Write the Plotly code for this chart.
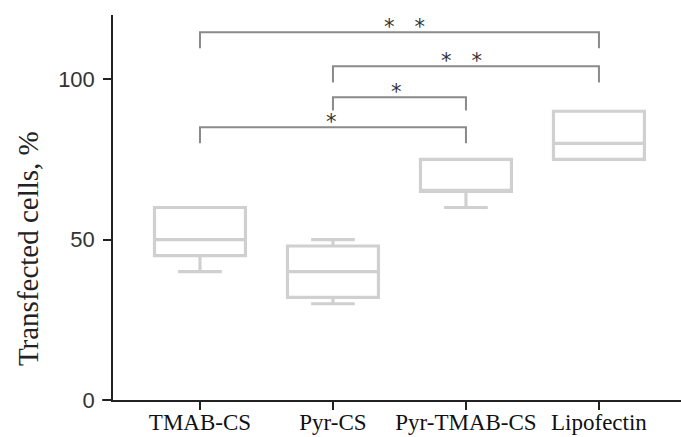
import plotly.graph_objects as go

categories = ["TMAB-CS", "Pyr-CS", "Pyr-TMAB-CS", "Lipofectin"]
positions = [0, 1, 2, 3]
q1 = [45, 32, 65, 75]
median = [50, 40, 65, 80]
q3 = [60, 48, 75, 90]
lower = [40, 30, 60, 75]
upper = [60, 50, 75, 90]

# significance brackets: (start category, end category, bar level, tick bottom, stars)
br_start = [0, 1, 1, 0]
br_end = [3, 3, 2, 2]
br_level = [114.6, 104.0, 94.4, 85.0]
br_drop = [5.0, 5.0, 4.2, 5.0]
br_label = ["*   *", "*   *", "*", "*"]
br_label_x = [1.54, 1.97, 1.48, 0.99]

fig = go.Figure()
fig.add_trace(go.Box(
    x=positions, q1=q1, median=median, q3=q3,
    lowerfence=lower, upperfence=upper,
    width=0.684, whiskerwidth=0.48,
    fillcolor="white", line=dict(color="#d0d0d0", width=3.2),
    boxpoints=False, showlegend=False, hoverinfo="skip",
))

for s, e, lv, dr in zip(br_start, br_end, br_level, br_drop):
    fig.add_trace(go.Scatter(
        x=[s, s, e, e], y=[lv - dr, lv, lv, lv - dr], mode="lines",
        line=dict(color="#8a8a8a", width=2), showlegend=False, hoverinfo="skip",
    ))

for lx, lv, lab in zip(br_label_x, br_level, br_label):
    fig.add_annotation(x=lx, y=lv, text=lab, showarrow=False, yanchor="bottom",
                       yshift=-9, font=dict(family="DejaVu Sans", size=21, color="#333"))

fig.add_annotation(xref="paper", yref="paper", x=-0.1496, y=0.392,
                   text="Transfected cells, %", textangle=-90, showarrow=False,
                   xanchor="center", yanchor="middle",
                   font=dict(family="Liberation Serif", size=29, color="#222"))

fig.add_shape(type="line", xref="paper", yref="paper", x0=-0.0194, x1=0, y0=0, y1=0,
              line=dict(color="#222", width=1.5))

fig.update_layout(
    width=681, height=437, margin=dict(l=113, r=0, t=15, b=37),
    plot_bgcolor="white", paper_bgcolor="white",
    xaxis=dict(range=[-0.654, 3.617], tickvals=positions, ticktext=categories,
               automargin=False, ticklabelstandoff=-7,
               showline=True, linecolor="#222", linewidth=1.5, ticks="outside",
               ticklen=8, tickcolor="#222", tickwidth=1.5, showgrid=False, zeroline=False,
               tickfont=dict(family="Liberation Serif", size=23, color="#111")),
    yaxis=dict(range=[0, 120], tickvals=[0, 50, 100], showline=True, linecolor="#222",
               automargin=False,
               linewidth=1.5, ticks="outside", ticklen=8, tickcolor="#222", tickwidth=1.5,
               showgrid=False, zeroline=False, ticklabelstandoff=4,
               tickfont=dict(family="Liberation Sans", size=22, color="#333")),
)

fig.write_html("out.html")
